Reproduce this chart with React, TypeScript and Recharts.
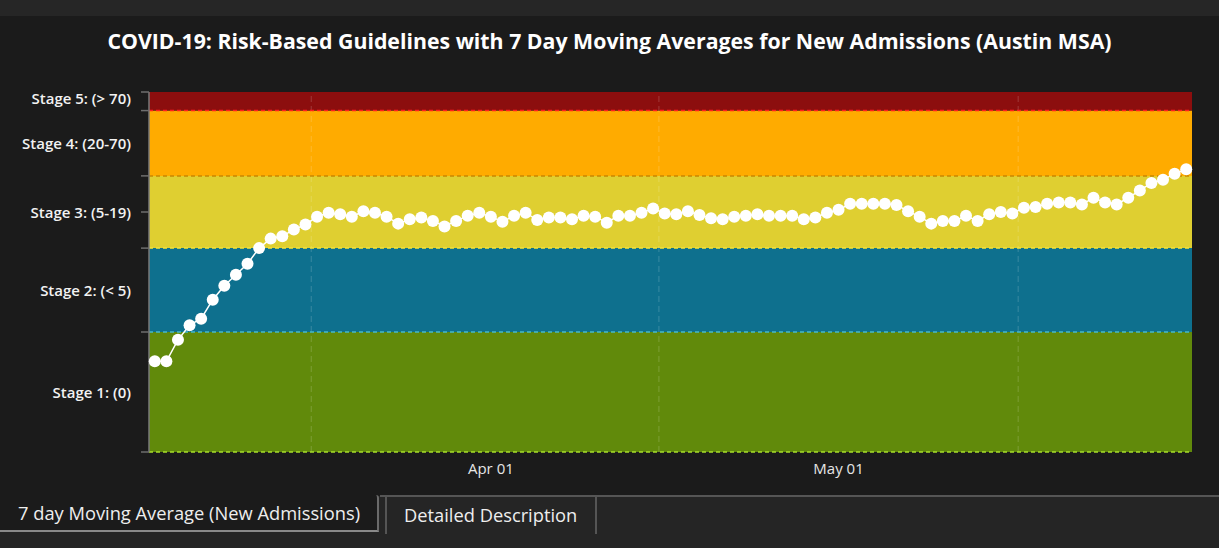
import React from 'react';
import { LineChart, Line, XAxis, YAxis, ReferenceArea, ReferenceLine } from 'recharts';

const DAY = 86400000;
const firstDay = Date.UTC(2020, 2, 3);

// 7 day moving average of new admissions, Mar 03 .. May 31
const admissions7dAvg = [
  0.57, 0.57, 0.86, 1.14, 1.29, 1.86, 2.43, 3.0, 3.71, 5.0,
  6.0, 6.29, 7.14, 7.86, 9.14, 9.86, 9.57, 9.14, 10.14, 9.86,
  9.14, 8.0, 8.71, 9.0, 8.43, 7.57, 8.43, 9.29, 9.86, 9.14,
  8.29, 9.29, 9.86, 8.57, 9.0, 9.0, 8.71, 9.29, 9.14, 8.14,
  9.29, 9.29, 9.86, 10.71, 9.71, 9.57, 10.14, 9.43, 8.86, 8.71,
  9.14, 9.29, 9.57, 9.29, 9.29, 9.29, 8.71, 9.0, 9.86, 10.43,
  11.71, 11.71, 11.71, 11.71, 11.43, 10.14, 9.14, 8.0, 8.43, 8.43,
  9.29, 8.43, 9.57, 10.0, 9.71, 10.86, 11.0, 11.71, 12.0, 12.0,
  11.57, 13.14, 12.0, 11.57, 13.14, 15.14, 17.43, 18.57, 20.86, 22.71,
];

const stageLabels = ['Stage 1: (0)', 'Stage 2: (< 5)', 'Stage 3: (5-19)', 'Stage 4: (20-70)', 'Stage 5: (> 70)'];
const stageBounds = [0.1, 1, 5, 20, 70, 100];
const stageColors = ['#618a0b', '#0e708e', '#dfcf31', '#ffab00', '#8c0e0e'];
const stageEdgeColors = ['#a8e02a', '#45b8cc', '#f3e43a', '#c98800', '#ff1e1e'];
const extraTickValues = [10];

const xTickDates = [Date.UTC(2020, 3, 1), Date.UTC(2020, 4, 1)];
const xTickLabels = ['Apr 01', 'May 01'];
const gridDates = [Date.UTC(2020, 2, 16, 12), Date.UTC(2020, 3, 15, 12), Date.UTC(2020, 4, 16, 12)];

const data = admissions7dAvg.map((v, i) => ({ t: firstDay + i * DAY, value: v }));

const labelAnchors = stageLabels.map((_, i) => Math.sqrt(stageBounds[i] * stageBounds[i + 1]));
const yTicks = Array.from(new Set([...stageBounds, ...extraTickValues, ...labelAnchors])).sort((a, b) => a - b);

const AXIS_X = 149;
const PLOT_TOP = 92;

const StageTick = (props: any) => {
  const { y, payload } = props;
  const v = payload.value;
  const li = labelAnchors.findIndex((a) => Math.abs(a - v) < 1e-9);
  const hasLine = stageBounds.includes(v) || extraTickValues.includes(v);
  // the top label is pushed up against the top edge of the plot
  const ty = li === stageLabels.length - 1 ? PLOT_TOP + 6 : y;
  return (
    <g>
      {hasLine && <line x1={AXIS_X - 8} x2={AXIS_X} y1={y} y2={y} stroke="#6e6e6e" strokeWidth={1.5} />}
      {li >= 0 && (
        <text
          x={AXIS_X - 18}
          y={ty}
          textAnchor="end"
          dominantBaseline="central"
          fill="#f2f2f2"
          fontSize={15}
          fontWeight={600}
          fontFamily="'Open Sans', sans-serif"
        >
          {stageLabels[li]}
        </text>
      )}
    </g>
  );
};

const fmtX = (t: number) => {
  const i = xTickDates.indexOf(t);
  return i >= 0 ? xTickLabels[i] : '';
};

export default function App() {
  return (
    <div style={{ position: 'fixed', left: 0, top: 0, width: 1219, height: 548, background: '#1b1b1b', fontFamily: "'Open Sans', sans-serif", overflow: 'hidden' }}>
      <div style={{ position: 'absolute', left: 0, top: 0, width: 1219, height: 16, background: '#262626' }} />
      <div style={{ position: 'absolute', left: 0, top: 26, width: 1219, textAlign: 'center', color: '#fff', fontSize: 21.3, fontWeight: 700, lineHeight: '30px' }}>
        COVID-19: Risk-Based Guidelines with 7 Day Moving Averages for New Admissions (Austin MSA)
      </div>
      <div style={{ position: 'absolute', left: 0, top: 0 }}>
        <LineChart width={1219} height={490} data={data} margin={{ top: 92, right: 27, bottom: 8, left: 0 }}>
          {stageColors.map((c, i) => (
            <ReferenceArea key={'a' + i} y1={stageBounds[i]} y2={stageBounds[i + 1]} fill={c} fillOpacity={1} stroke="none" ifOverflow="visible" />
          ))}
          {gridDates.map((d) => (
            <ReferenceLine key={'g' + d} x={d} stroke="rgba(255,255,255,0.18)" strokeDasharray="6 4" />
          ))}
          {stageEdgeColors.map((c, i) => (
            <ReferenceLine key={'e' + i} y={stageBounds[i]} stroke={c} strokeDasharray="4 3" strokeWidth={1.5} />
          ))}
          <XAxis
            dataKey="t"
            type="number"
            scale="time"
            domain={[firstDay - DAY / 2, firstDay + (admissions7dAvg.length - 0.5) * DAY]}
            ticks={xTickDates}
            tickFormatter={fmtX}
            axisLine={false}
            tickLine={false}
            tickMargin={5}
            height={30}
            tick={{ fill: '#e6e6e6', fontSize: 15, fontFamily: "'Open Sans', sans-serif" }}
          />
          <YAxis
            type="number"
            scale="log"
            domain={[0.1, 100]}
            allowDataOverflow
            ticks={yTicks}
            interval={0}
            width={AXIS_X}
            tickLine={false}
            axisLine={{ stroke: '#7a7a7a', strokeWidth: 1.5 }}
            tick={<StageTick />}
          />
          <Line
            dataKey="value"
            stroke="#ffffff"
            strokeWidth={1.5}
            dot={{ r: 6, fill: '#ffffff', stroke: 'none' }}
            activeDot={false}
            isAnimationActive={false}
          />
        </LineChart>
      </div>
      <div style={{ position: 'absolute', left: 0, top: 496, width: 1219, height: 52, background: '#252525' }}>
        <div style={{ position: 'absolute', left: 380, top: -1, right: 0, height: 2, background: '#555' }} />
        <div style={{ position: 'absolute', left: 0, top: -1, width: 379, height: 37, background: '#1b1b1b', borderRight: '2px solid #6a6a6a', borderBottom: '2px solid #8a8a8a', borderTopRightRadius: 3, color: '#eee', fontSize: 18.3, lineHeight: '35px', paddingLeft: 18, boxSizing: 'border-box' }}>
          7 day Moving Average (New Admissions)
        </div>
        <div style={{ position: 'absolute', left: 385, top: -1, width: 212, height: 39, borderLeft: '2px solid #555', borderRight: '2px solid #555', borderTop: '2px solid #555', boxSizing: 'border-box', color: '#eee', fontSize: 18.3, lineHeight: '35px', paddingLeft: 17 }}>
          Detailed Description
        </div>
      </div>
    </div>
  );
}
